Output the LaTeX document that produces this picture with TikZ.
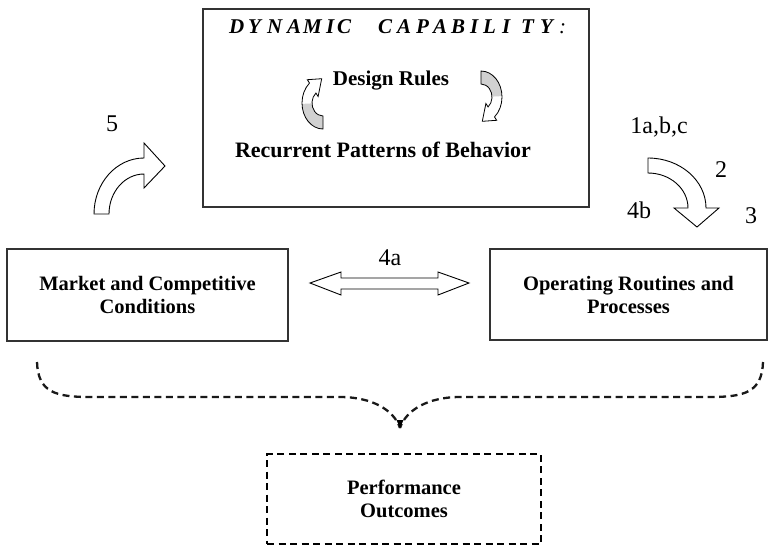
\documentclass[tikz,border=0pt]{standalone}
\usepackage{fontspec}
\setmainfont{Liberation Serif}
\usetikzlibrary{arrows.meta}

% one letter of the spaced heading, in a box of the given pitch
\newcommand\pitchlt[2]{\makebox[#1pt][l]{#2}}

\tikzset{
  box/.style={draw=black!80, line width=1.1pt, inner sep=0pt, align=center,
    font=\bfseries\fontsize{20.5}{23}\selectfont},
  inner/.style={font=\bfseries\fontsize{21}{24}\selectfont, inner sep=0pt},
  num/.style={font=\fontsize{24}{26}\selectfont, inner sep=0pt},
  bigarrow/.style={draw=black, line width=0.9pt, fill=white, line join=miter},
  brace/.style={draw=black!90, line width=2.3pt, dash pattern=on 7pt off 4.5pt},
  cyclearrow/.pic={
    % closed outline of the small curved arrow, centred on its arcs
    \fill[white] (0,26) arc[start angle=90, end angle=230, x radius=21, y radius=26]
      -- (-15.7,-23.3) -- (-1.3,-24.3) -- (-4.9,-6.5) -- (-7.07,-9.96)
      arc[start angle=230, end angle=90, x radius=11, y radius=13] -- cycle;
    \fill[black!18] (0,26) arc[start angle=90, end angle=178, x radius=21, y radius=26]
      -- (-11,0.4) arc[start angle=178, end angle=90, x radius=11, y radius=13] -- cycle;
    \draw[line width=0.8pt, line join=miter] (0,26)
      arc[start angle=90, end angle=230, x radius=21, y radius=26]
      -- (-15.7,-23.3) -- (-1.3,-24.3) -- (-4.9,-6.5) -- (-7.07,-9.96)
      arc[start angle=230, end angle=90, x radius=11, y radius=13] -- cycle;
  }
}

\begin{document}
\begin{tikzpicture}[x=1pt, y=-1pt]
\useasboundingbox (0,0) rectangle (768,547);

% the three solid boxes and the dashed outcome box
\node[box, minimum width=386pt, minimum height=198pt] (dyncap) at (396,108) {};
\node[box, minimum width=281pt, minimum height=92pt] (market) at (147.5,295)
  {Market and Competitive\\Conditions};
\node[box, minimum width=277pt, minimum height=91pt] (routines) at (628.5,294.5)
  {Operating Routines and\\Processes};
\node[box, draw=black, line width=2.3pt, dash pattern=on 7pt off 4.5pt,
  minimum width=274pt, minimum height=90pt] (perf) at (404,499)
  {Performance\\Outcomes};

% contents of the capability box
\node[anchor=west, inner sep=0pt, font=\bfseries\itshape\fontsize{21}{24}\selectfont]
  (title) at (229,27)
  {\pitchlt{19}{D}\pitchlt{19}{Y}\pitchlt{20}{N}\pitchlt{16}{A}\pitchlt{23}{M}\pitchlt{11}{I}\pitchlt{41}{C}%
   \pitchlt{19}{C}\pitchlt{19}{A}\pitchlt{17}{P}\pitchlt{18}{A}\pitchlt{19}{B}\pitchlt{13}{I}\pitchlt{19}{L}%
   \pitchlt{19}{I}\pitchlt{19}{T}\pitchlt{19}{Y}{\mdseries:}};
\node[inner] (rules) at (391,81) {Design Rules};
\node[inner, font=\bfseries\fontsize{22}{24}\selectfont] (patterns) at (383,150)
  {Recurrent Patterns of Behavior};
\pic at (323,103) {cyclearrow};
\pic[rotate=180] at (481,97) {cyclearrow};

% feedback arrow from the market to the capability
\draw[bigarrow] (94,214) arc[start angle=180, end angle=270, x radius=50, y radius=56]
  -- (144,143) -- (165,166) -- (144,188) -- (144,174)
  arc[start angle=270, end angle=180, x radius=35, y radius=40] -- cycle;
\node[num] (l5) at (112,124) {5};

% arrow from the capability to the routines
\draw[bigarrow] (648,158) arc[start angle=270, end angle=360, x radius=58, y radius=50]
  -- (719,208) -- (697,227) -- (674,208) -- (688,208)
  arc[start angle=0, end angle=-90, x radius=40, y radius=35] -- cycle;
\node[num] (l1) at (659,127) {1a,b,c};
\node[num] (l2) at (721,170) {2};
\node[num] (l4b) at (639,210) {4b};
\node[num] (l3) at (751,216) {3};

% two-way arrow between market and routines
\draw[bigarrow] (310,283) -- (341,272) -- (341,278) -- (438,278) -- (438,272)
  -- (469,283) -- (438,295) -- (438,289) -- (341,289) -- (341,295) -- cycle;
\node[num] (l4a) at (390,258) {4a};

% dashed brace gathering both boxes towards the outcomes
\coordinate (bl) at (37,362);
\coordinate (br) at (763,362);
\coordinate (tip) at (400,428);
\draw[brace] (bl) .. controls (38,392) and (55,397) .. (90,397) -- (340,397)
  .. controls (372,397) and (394,410) .. (tip);
\draw[brace] (br) .. controls (762,392) and (745,397) .. (710,397) -- (460,397)
  .. controls (428,397) and (406,410) .. (tip);
\fill[black] (tip) -- ++(-3.5,-8) -- ++(7,0) -- cycle;
\end{tikzpicture}
\end{document}
